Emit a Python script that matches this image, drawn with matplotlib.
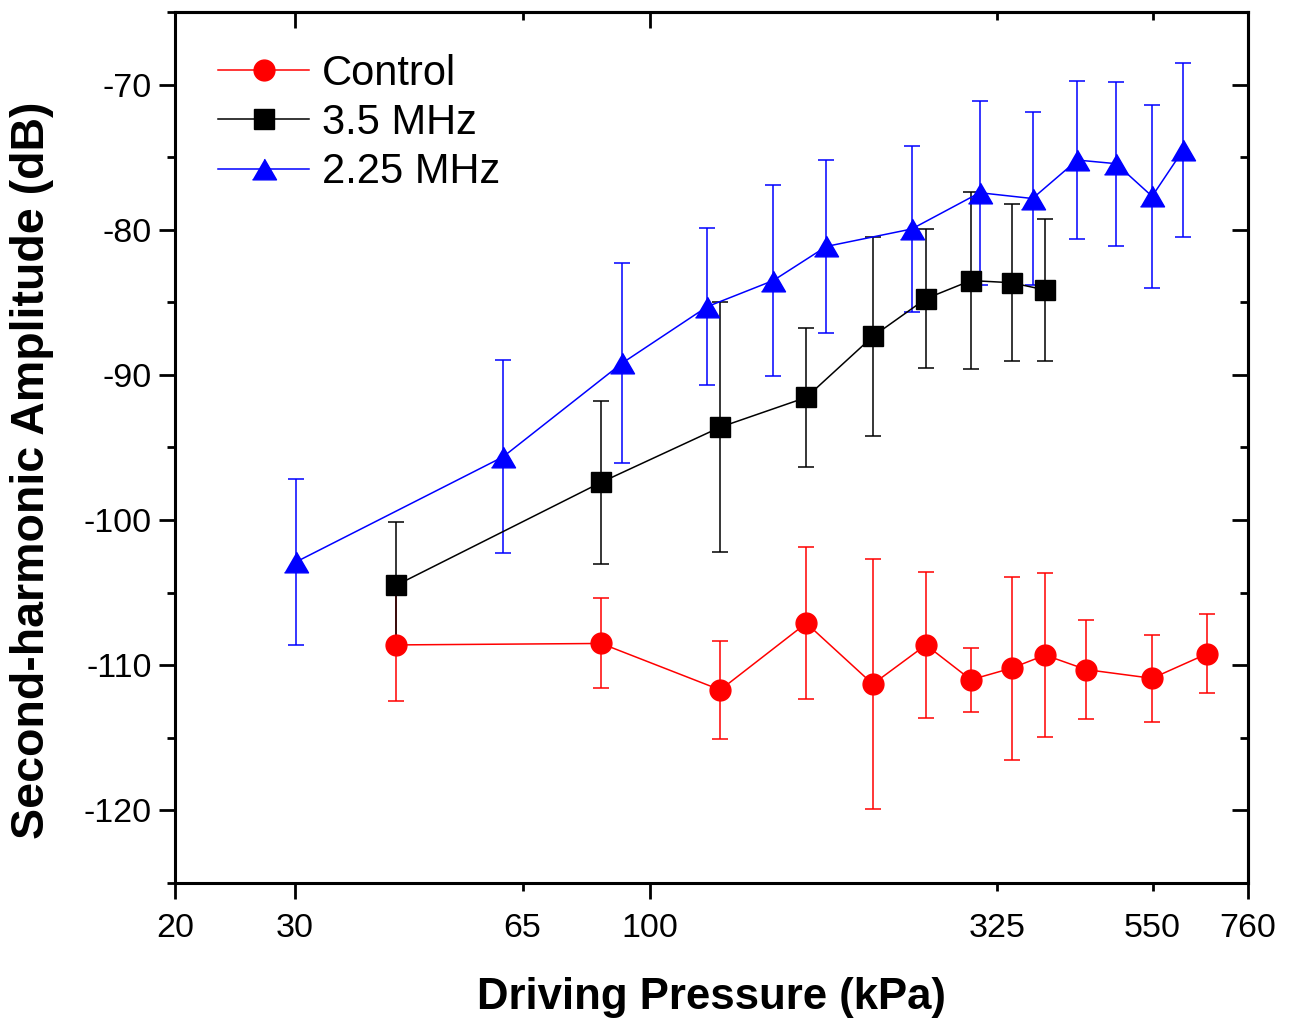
import matplotlib
matplotlib.use('Agg')
import matplotlib.pyplot as plt
from matplotlib.ticker import FixedLocator, MultipleLocator, NullFormatter

plt.rcParams['font.family'] = ['Liberation Sans', 'DejaVu Sans']
plt.rcParams['axes.unicode_minus'] = False

# Control
x_control = [42.3, 84.8, 127, 170, 213, 255, 297, 341, 382, 439, 549, 662]
y_control = [-108.6, -108.5, -111.7, -107.1, -111.3, -108.6, -111.0, -110.2, -109.3, -110.3, -110.9, -109.2]
e_control = [3.85, 3.1, 3.4, 5.25, 8.6, 5.0, 2.2, 6.3, 5.65, 3.4, 3.0, 2.7]

# 3.5 MHz
x_35 = [42.3, 84.8, 127, 170, 213, 255, 297, 341, 382]
y_35 = [-104.5, -97.4, -93.6, -91.55, -87.35, -84.75, -83.5, -83.65, -84.15]
e_35 = [4.4, 5.6, 8.6, 4.8, 6.85, 4.8, 6.1, 5.4, 4.9]

# 2.25 MHz
x_225 = [30.1, 60.8, 91, 121.5, 152, 182, 243, 306, 366, 426, 486, 549, 610]
y_225 = [-102.9, -95.65, -89.2, -85.3, -83.5, -81.15, -79.95, -77.45, -77.85, -75.2, -75.45, -77.7, -74.5]
e_225 = [5.7, 6.65, 6.9, 5.4, 6.6, 5.95, 5.75, 6.35, 5.95, 5.45, 5.65, 6.3, 6.0]

labels = ['Control', '3.5 MHz', '2.25 MHz']
x_major = [20, 30, 100, 760]
x_minor = [65, 325, 550]

fig = plt.figure(figsize=(12.94, 10.24), dpi=100)
ax = fig.add_axes([0.1352, 0.1377, 0.8293, 0.8506])

tri = [(-1.16, -1), (1.16, -1), (0, 1)]
common = dict(lw=1.1, elinewidth=1.1, capsize=6, capthick=1.1)
c1 = ax.errorbar(x_control, y_control, yerr=e_control, color='#ff0000', marker='o', ms=15, **common)
c2 = ax.errorbar(x_35, y_35, yerr=e_35, color='black', marker='s', ms=13.7, **common)
c3 = ax.errorbar(x_225, y_225, yerr=e_225, color='#0000ff', marker=tri, ms=17.3, **common)

ax.set_xscale('log')
ax.set_xlim(20, 760)
ax.set_ylim(-125, -65)

ax.xaxis.set_major_locator(FixedLocator(x_major))
ax.xaxis.set_minor_locator(FixedLocator(x_minor))
ax.set_xticklabels([str(v) for v in x_major])
ax.set_xticklabels([str(v) for v in x_minor], minor=True)
ax.yaxis.set_major_locator(MultipleLocator(10))
ax.yaxis.set_minor_locator(MultipleLocator(5))

ax.tick_params(which='major', length=11.5, width=2, labelsize=24.5, direction='out')
ax.tick_params(which='minor', length=5.8, width=2, labelsize=24.5, direction='out')
ax.tick_params(axis='x', which='major', pad=10)
ax.tick_params(axis='x', which='minor', pad=10 + 5.7)
ax.tick_params(axis='y', which='major', pad=5)

for s in ax.spines.values():
    s.set_linewidth(2.2)

top = ax.secondary_xaxis('top')
top.xaxis.set_major_locator(FixedLocator(x_major))
top.xaxis.set_minor_locator(FixedLocator(x_minor))
top.xaxis.set_major_formatter(NullFormatter())
top.xaxis.set_minor_formatter(NullFormatter())
top.tick_params(which='major', direction='in', length=11.5, width=2)
top.tick_params(which='minor', direction='in', length=5.8, width=2)
top.spines['top'].set_linewidth(2.2)

right = ax.secondary_yaxis('right')
right.yaxis.set_major_locator(MultipleLocator(10))
right.yaxis.set_minor_locator(MultipleLocator(5))
right.yaxis.set_major_formatter(NullFormatter())
right.tick_params(which='major', direction='in', length=11.5, width=2)
right.tick_params(which='minor', direction='in', length=5.8, width=2)
right.spines['right'].set_linewidth(2.2)

ax.set_xlabel('Driving Pressure (kPa)', fontsize=31.5, fontweight='bold')
ax.set_ylabel('Second-harmonic Amplitude (dB)', fontsize=33.5, fontweight='bold')
ax.xaxis.set_label_coords(0.5, -0.108)
ax.yaxis.set_label_coords(-0.113, 0.474)

ax.legend(handles=[c1[0], c2[0], c3[0]], labels=labels, loc='upper left',
          bbox_to_anchor=(0.005, 0.995), frameon=False, fontsize=30,
          handlelength=2.2, handletextpad=0.3, labelspacing=0.22)

fig.savefig('out.png', dpi=100)
